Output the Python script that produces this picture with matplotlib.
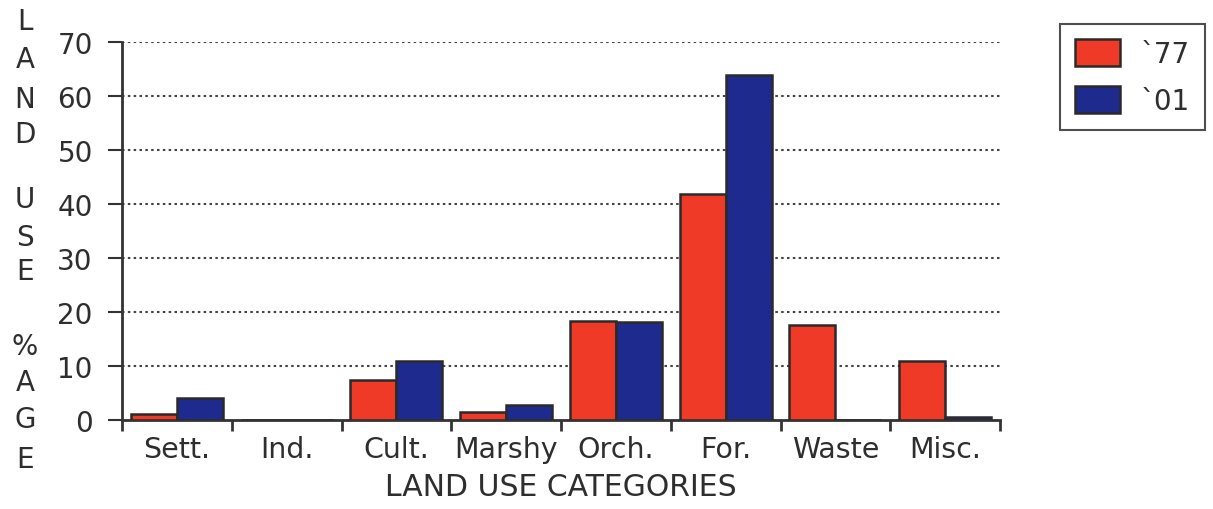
import matplotlib.pyplot as plt
import numpy as np

# データ
categories = ["Sett.", "Ind.", "Cult.", "Marshy", "Orch.", "For.", "Waste", "Misc."]
values_77 = [1.2, 0.0, 7.5, 1.5, 18.4, 41.9, 17.6, 11.0]
values_01 = [4.1, 0.0, 10.9, 2.8, 18.1, 63.9, 0.0, 0.6]
series_labels = ["`77", "`01"]
y_ticks = [0, 10, 20, 30, 40, 50, 60, 70]
x_label = "LAND USE CATEGORIES"
y_label_letters = "LAND USE %AGE"

RED = "#ef3a28"
BLUE = "#1e2a8e"
EDGE = "#2a2a2a"
TXT = "#2e2e2e"

fig = plt.figure(figsize=(12.13, 5.10), dpi=100)
ax = fig.add_axes([0.1006, 0.1745, 0.7238, 0.7412])

x = np.arange(len(categories)) + 0.5
w = 0.42
ax.bar(x - w / 2, values_77, width=w, color=RED, edgecolor=EDGE, linewidth=1.8,
       label=series_labels[0], zorder=3)
ax.bar(x + w / 2, values_01, width=w, color=BLUE, edgecolor=EDGE, linewidth=1.8,
       label=series_labels[1], zorder=3)

ax.set_xlim(0, len(categories))
ax.set_ylim(0, 70)

# y軸
ax.set_yticks(y_ticks)
ax.set_yticklabels([str(v) for v in y_ticks], fontsize=20, color=TXT)
ax.tick_params(axis="y", direction="out", length=10, width=1.5, pad=11, color="#333333")
for v in y_ticks[1:]:
    ax.axhline(v, color="#444444", linestyle=(0, (1.2, 1.6)), linewidth=1.5, zorder=1)

# x軸: 境界に目盛り、中央にラベル
ax.set_xticks(np.arange(len(categories) + 1))
ax.set_xticklabels([])
ax.tick_params(axis="x", which="major", direction="out", length=8, width=2, color="#333333")
ax.set_xticks(x, minor=True)
ax.set_xticklabels(categories, minor=True, fontsize=20.5, color=TXT)
ax.tick_params(axis="x", which="minor", length=0, pad=11)

ax.set_xlabel(x_label, fontsize=21.5, color=TXT, labelpad=6)

for side in ["top", "right"]:
    ax.spines[side].set_visible(False)
for side in ["left", "bottom"]:
    ax.spines[side].set_linewidth(2)
    ax.spines[side].set_color("#333333")

# 縦書きのy軸ラベル
y_pos = [22, 60, 100, 135, None, 200, 238, 272, None, 347, 383, 420, 460]
for ch, yp in zip(y_label_letters, y_pos):
    if yp is None:
        continue
    fig.text(25 / 1213, 1 - yp / 510, ch, fontsize=20, color=TXT,
             ha="center", va="center")

# 凡例
leg = ax.legend(loc="upper right", bbox_to_anchor=(1205 / 1213, 1 - 25 / 510),
                bbox_transform=fig.transFigure, borderaxespad=0, fontsize=20,
                frameon=True, fancybox=False, edgecolor="#222222",
                handlelength=1.6, handleheight=1.1, labelspacing=0.65,
                borderpad=0.55, handletextpad=0.75)
leg.get_frame().set_linewidth(1.5)
for t in leg.get_texts():
    t.set_color(TXT)

fig.savefig("out.png", dpi=100)
